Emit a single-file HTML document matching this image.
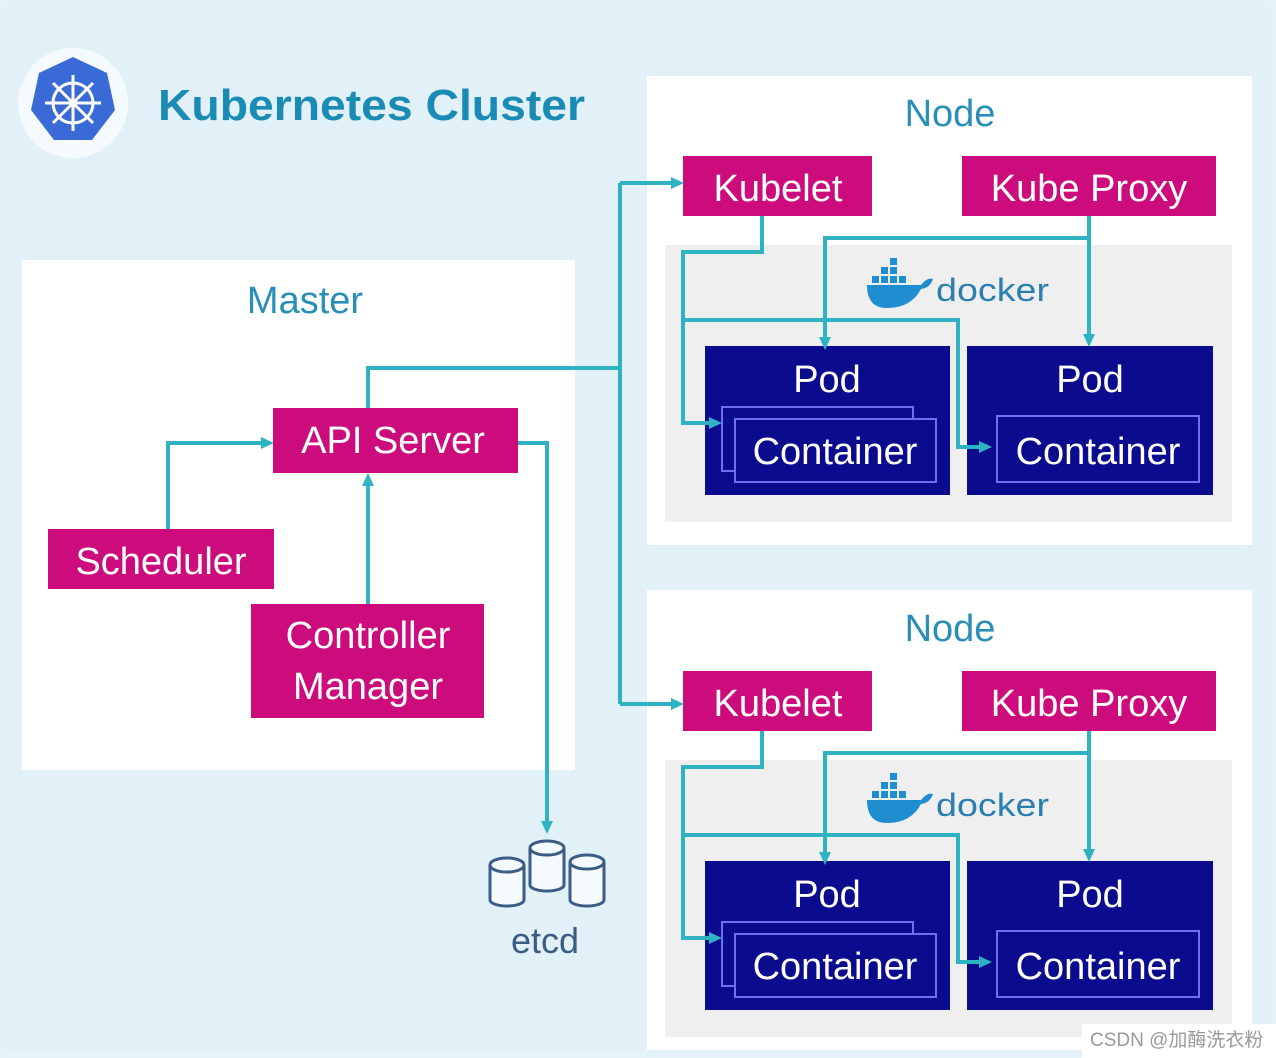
<!DOCTYPE html>
<html><head><meta charset="utf-8"><style>
html,body{margin:0;padding:0;background:#fff}
svg{display:block}
text{font-family:"Liberation Sans","Noto Sans CJK SC",sans-serif}
</style></head><body>
<svg width="1276" height="1058" viewBox="0 0 1276 1058" xmlns="http://www.w3.org/2000/svg">
<defs>
<marker id="ar" markerWidth="14" markerHeight="14" refX="9" refY="7" orient="auto" markerUnits="userSpaceOnUse" viewBox="0 0 14 14">
<path d="M0,1 L13,7 L0,13 z" fill="#2fb3c3"/></marker>
</defs>
<rect x="0" y="0" width="1276" height="1058" fill="#e4f2f9"/>
<rect x="2" y="2" width="1268" height="1050" fill="#e2f1f8"/>
<!-- logo -->
<circle cx="73" cy="103" r="55" fill="#f4fafd"/>
<polygon points="73,57 107,73 115,110 92,140 54,140 31,110 39,73" fill="#3a6ad6"/>
<g stroke="#fff" stroke-width="3" fill="none">
<circle cx="73" cy="103" r="20"/>
<line x1="73" y1="75" x2="73" y2="131"/><line x1="45" y1="103" x2="101" y2="103"/>
<line x1="53" y1="83" x2="93" y2="123"/><line x1="93" y1="83" x2="53" y2="123"/>
</g>
<circle cx="73" cy="103" r="4" fill="#fff"/>
<text x="158" y="120" font-size="44" font-weight="bold" fill="#1a8bb5" textLength="427" lengthAdjust="spacingAndGlyphs">Kubernetes Cluster</text>
<!-- master -->
<rect x="22" y="260" width="553" height="510" fill="#fff"/>
<text x="305" y="313" font-size="38" fill="#2a8fb8" text-anchor="middle">Master</text>
<!-- nodes -->
<rect x="647" y="76" width="605" height="469" fill="#fff"/>
<rect x="665" y="245" width="567" height="277" fill="#efefef"/>
<text x="950" y="126" font-size="38" fill="#2a8fb8" text-anchor="middle">Node</text>
<rect x="647" y="590" width="605" height="460" fill="#fff"/>
<rect x="665" y="760" width="567" height="277" fill="#efefef"/>
<text x="950" y="641" font-size="38" fill="#2a8fb8" text-anchor="middle">Node</text>

<g id="n1">
<rect x="683" y="156" width="189" height="60" fill="#cc0b7c"/>
<text x="778" y="201" font-size="38" fill="#fff" text-anchor="middle">Kubelet</text>
<rect x="962" y="156" width="254" height="60" fill="#cc0b7c"/>
<text x="1089" y="201" font-size="38" fill="#fff" text-anchor="middle">Kube Proxy</text>
<!-- docker -->
<path d="M867,285 h54 q6,-8 12,-6 q-3,9 -12,10 q-10,19 -34,19 q-20,0 -20,-23z" fill="#1f8ed0"/>
<g fill="#1f8ed0"><rect x="872" y="276" width="7" height="7"/><rect x="881" y="276" width="7" height="7"/><rect x="890" y="276" width="7" height="7"/><rect x="899" y="276" width="7" height="7"/><rect x="881" y="267" width="7" height="7"/><rect x="890" y="267" width="7" height="7"/><rect x="890" y="258" width="7" height="7"/></g>
<text x="936" y="301" font-size="32" fill="#2a7fb0" textLength="113" lengthAdjust="spacingAndGlyphs">docker</text>
<rect x="705" y="346" width="245" height="149" fill="#0b0b8e"/>
<text x="827" y="392" font-size="38" fill="#fff" text-anchor="middle">Pod</text>
<rect x="722" y="407" width="191" height="64" fill="none" stroke="#6f6ff0" stroke-width="2"/>
<rect x="735" y="419" width="201" height="63" fill="#0b0b8e" stroke="#6f6ff0" stroke-width="2"/>
<text x="835" y="464" font-size="38" fill="#fff" text-anchor="middle">Container</text>
<rect x="967" y="346" width="246" height="149" fill="#0b0b8e"/>
<text x="1090" y="392" font-size="38" fill="#fff" text-anchor="middle">Pod</text>
<rect x="997" y="416" width="202" height="66" fill="#0b0b8e" stroke="#6f6ff0" stroke-width="2"/>
<text x="1098" y="464" font-size="38" fill="#fff" text-anchor="middle">Container</text>
<g stroke="#2fb3c3" stroke-width="4" fill="none">
<path d="M762,216 V252 H683 V423 H718" marker-end="url(#ar)"/>
<path d="M683,320 H958 V447 H988" marker-end="url(#ar)"/>
<path d="M1089,216 V343" marker-end="url(#ar)"/>
<path d="M1089,238 H825 V346" marker-end="url(#ar)"/>
</g>
</g>
<use href="#n1" transform="translate(0,515)"/>

<!-- master boxes -->
<rect x="273" y="408" width="245" height="65" fill="#cc0b7c"/>
<text x="393" y="453" font-size="38" fill="#fff" text-anchor="middle">API Server</text>
<rect x="48" y="529" width="226" height="60" fill="#cc0b7c"/>
<text x="161" y="574" font-size="38" fill="#fff" text-anchor="middle">Scheduler</text>
<rect x="251" y="604" width="233" height="114" fill="#cc0b7c"/>
<text x="368" y="648" font-size="38" fill="#fff" text-anchor="middle">Controller</text>
<text x="368" y="699" font-size="38" fill="#fff" text-anchor="middle">Manager</text>
<g stroke="#2fb3c3" stroke-width="4" fill="none">
<path d="M368,408 V368 H620"/>
<path d="M620,183 V704"/>
<path d="M620,183 H680" marker-end="url(#ar)"/>
<path d="M620,704 H680" marker-end="url(#ar)"/>
<path d="M168,529 V443 H270" marker-end="url(#ar)"/>
<path d="M368,604 V477" marker-end="url(#ar)"/>
<path d="M518,443 H547 V830" marker-end="url(#ar)"/>
</g>
<!-- etcd -->
<g stroke="#3b5c85" stroke-width="3" fill="#f4fafd">
<path d="M490,865 V900 A17,6 0 0 0 524,900 V865"/><ellipse cx="507" cy="865" rx="17" ry="7"/>
<path d="M570,862 V900 A17,6 0 0 0 604,900 V862"/><ellipse cx="587" cy="862" rx="17" ry="7"/>
<path d="M530,848 V885 A17,6 0 0 0 564,885 V848"/><ellipse cx="547" cy="848" rx="17" ry="7"/>
</g>
<text x="545" y="953" font-size="36" fill="#3b5c85" text-anchor="middle">etcd</text>
<!-- watermark -->
<rect x="1082" y="1024" width="194" height="34" fill="#fff"/>
<text x="1090" y="1046" font-size="19" fill="#999">CSDN @加酶洗衣粉</text>
</svg>
</body></html>
